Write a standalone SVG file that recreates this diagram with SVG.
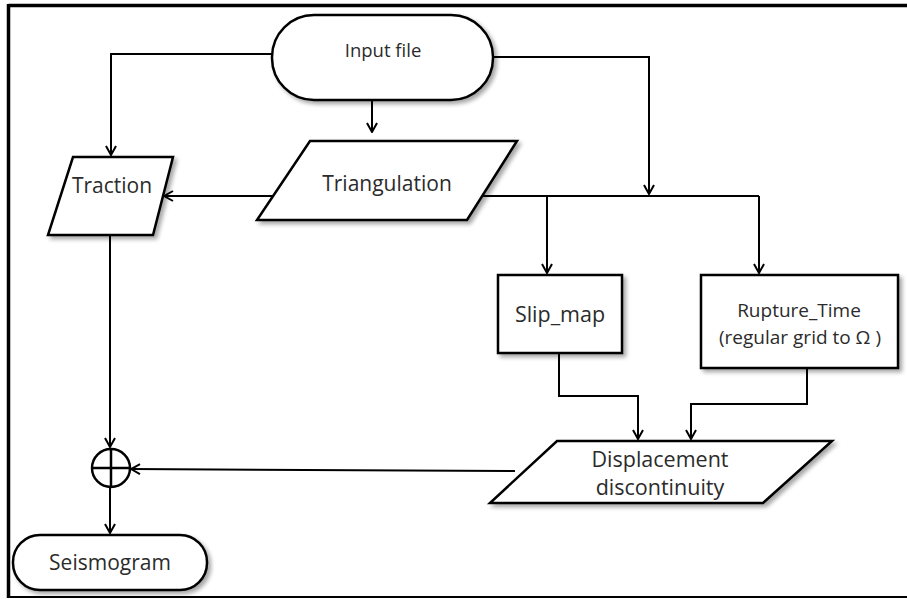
<svg xmlns="http://www.w3.org/2000/svg" width="907" height="599" viewBox="0 0 907 599">
<defs>
<style>
.shape{fill:#fff;stroke:#000;stroke-width:2.5;filter:url(#sh)}
.conn{fill:none;stroke:#000;stroke-width:2}
.t{font-family:"Open Sans","Noto Sans",sans-serif;fill:#2b2b2b;text-anchor:middle}
</style>
<filter id="sh" x="-10%" y="-10%" width="125%" height="130%">
<feGaussianBlur in="SourceAlpha" stdDeviation="2"/>
<feOffset dx="3" dy="3" result="b"/>
<feComponentTransfer><feFuncA type="linear" slope="0.35"/></feComponentTransfer>
<feMerge><feMergeNode/><feMergeNode in="SourceGraphic"/></feMerge>
</filter>
<marker id="arr" viewBox="0 0 12 12" refX="11" refY="6" markerWidth="12" markerHeight="12" markerUnits="userSpaceOnUse" orient="auto">
<path d="M2,1 L11,6 L2,11" fill="none" stroke="#000" stroke-width="2"/>
</marker>
</defs>
<rect width="907" height="599" fill="#fff"/>
<g id="frame" fill="none" stroke="#000">
<line x1="8.5" y1="5.5" x2="907" y2="5.5" stroke-width="3.5"/>
<line x1="8.5" y1="4" x2="8.5" y2="598" stroke-width="3.5"/>
<line x1="7" y1="597" x2="907" y2="597" stroke-width="2"/>
</g>
<g id="connectors">
<path class="conn" d="M272,54 H111 V155" marker-end="url(#arr)"/>
<path class="conn" d="M372,100 V132" marker-end="url(#arr)"/>
<path class="conn" d="M493,57 H649 V194" marker-end="url(#arr)"/>
<path class="conn" d="M274,196 H164" marker-end="url(#arr)"/>
<path class="conn" d="M480,196 H759"/>
<path class="conn" d="M759,196 V273" marker-end="url(#arr)"/>
<path class="conn" d="M547,196 V273" marker-end="url(#arr)"/>
<path class="conn" d="M559,353 V396 H638 V439" marker-end="url(#arr)"/>
<path class="conn" d="M807,368 V404 H691 V439" marker-end="url(#arr)"/>
<path class="conn" d="M110,235 V447" marker-end="url(#arr)"/>
<path class="conn" d="M515,471 L131,469" marker-end="url(#arr)"/>
<path class="conn" d="M110,488 V533" marker-end="url(#arr)"/>
</g>
<g id="input-file">
<rect class="shape" x="272" y="15" width="221" height="85" rx="42" ry="42"/>
<text class="t" x="383" y="57" font-size="18.5">Input file</text>
</g>
<g id="triangulation">
<polygon class="shape" points="310,141 517,141 467,220 257,220"/>
<text class="t" x="387" y="191" font-size="21">Triangulation</text>
</g>
<g id="traction">
<polygon class="shape" points="73,157 173,157 153,235 48,235"/>
<text class="t" x="112" y="193" font-size="21">Traction</text>
</g>
<g id="slip-map">
<rect class="shape" x="498" y="275" width="124" height="78"/>
<text class="t" x="560" y="322" font-size="21.5">Slip_map</text>
</g>
<g id="rupture-time">
<rect class="shape" x="701" y="275" width="197" height="93"/>
<text class="t" x="799" y="317" font-size="19">Rupture_Time</text>
<text class="t" x="800" y="344" font-size="19">(regular grid to Ω )</text>
</g>
<g id="displacement">
<polygon class="shape" points="557,441 832,441 763,503 490,503"/>
<text class="t" x="660" y="467" font-size="21.5">Displacement</text>
<text class="t" x="660" y="495" font-size="21.5">discontinuity</text>
</g>
<g id="sum">
<circle cx="111" cy="468" r="19" fill="#fff" stroke="#000" stroke-width="2.5"/>
<line x1="92" y1="468" x2="130" y2="468" stroke="#000" stroke-width="2.5"/>
<line x1="111" y1="449" x2="111" y2="487" stroke="#000" stroke-width="2.5"/>
</g>
<g id="seismogram">
<rect class="shape" x="13" y="535" width="194" height="55" rx="27" ry="27"/>
<text class="t" x="110" y="570" font-size="21">Seismogram</text>
</g>
</svg>
